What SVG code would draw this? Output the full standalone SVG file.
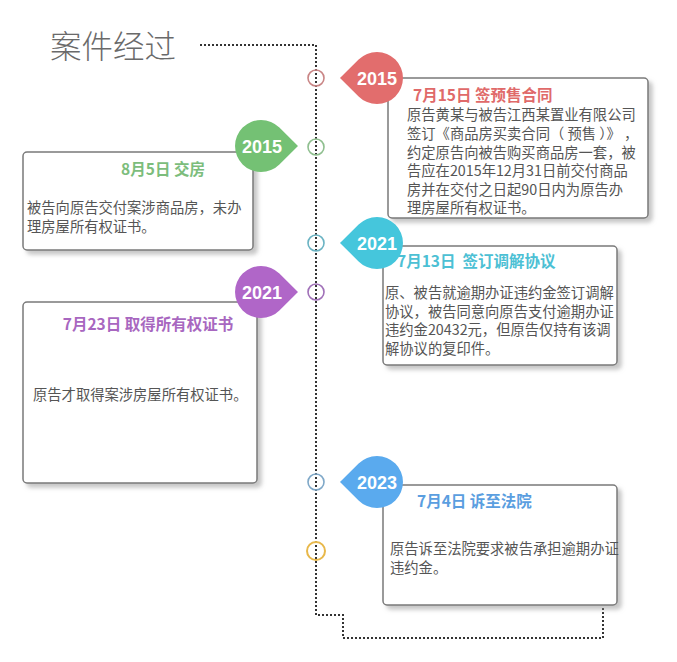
<svg xmlns="http://www.w3.org/2000/svg" width="677" height="662" viewBox="0 0 677 662">
<defs>
<filter id="sh" x="-10%" y="-10%" width="125%" height="125%">
<feDropShadow dx="4" dy="4" stdDeviation="2" flood-color="#999" flood-opacity="0.55"/>
</filter>
<style>
.box{fill:#fff;stroke:#7a7a7a;stroke-width:1.5;filter:url(#sh)}
.body{font-family:"Noto Sans CJK SC","Liberation Sans",sans-serif;font-size:14.3px;fill:#555}
.ttl{font-family:"Noto Sans CJK SC","Liberation Sans",sans-serif;font-size:15.5px;font-weight:bold}
.yr{font-family:"Liberation Sans",sans-serif;font-size:18px;font-weight:bold;fill:#fff;text-anchor:middle}
.dot{fill:none;stroke:#333;stroke-width:2;stroke-dasharray:2 2}
.ring{fill:none;stroke-width:1.6}
</style>
</defs>
<rect width="677" height="662" fill="#fff"/>
<text x="50" y="58" font-family="Noto Sans CJK SC,sans-serif" font-size="31.5" fill="#6a6a6a" font-weight="300">案件经过</text>
<g id="connectors">
<path class="dot" d="M200 45 H316 V615 H343 V638 H603 V608"/>
</g>
<g id="rings">
<circle class="ring" cx="316" cy="78" r="8" stroke="#c98585"/>
<circle class="ring" cx="316" cy="147" r="8" stroke="#8fbf8f"/>
<circle class="ring" cx="316" cy="243" r="8" stroke="#6ab3c3"/>
<circle class="ring" cx="316" cy="292" r="8" stroke="#a070b8"/>
<circle class="ring" cx="316" cy="482" r="8" stroke="#7fa8c8"/>
<circle cx="316" cy="551" r="9" fill="none" stroke="#e8b84a" stroke-width="2"/>
</g>
<g id="n1">
<rect class="box" x="388" y="78" width="260" height="140" rx="4"/>
<path d="M340 78 L358.6 59.6 A26 26 0 1 1 358.6 96.4 Z" fill="#e26d6d"/>
<text class="yr" x="377" y="84.5">2015</text>
<text class="ttl" x="413" y="101" fill="#e06a6a">7月15日 签预售合同</text>
<text class="body" x="407" y="120">原告黄某与被告江西某置业有限公司</text>
<text class="body" x="407" y="139" xml:space="preserve">签订《商品房买卖合同（ 预售 ）》 ，</text>
<text class="body" x="407" y="157.5">约定原告向被告购买商品房一套，被</text>
<text class="body" x="407" y="176">告应在2015年12月31日前交付商品</text>
<text class="body" x="407" y="194.5">房并在交付之日起90日内为原告办</text>
<text class="body" x="407" y="213">理房屋所有权证书。</text>
</g>
<g id="n2">
<rect class="box" x="23" y="152" width="230" height="98" rx="4"/>
<path d="M298 146 L279.4 127.6 A26 26 0 1 0 279.4 164.4 Z" fill="#74c174"/>
<text class="yr" x="262" y="152.5">2015</text>
<text class="ttl" x="163" y="175" fill="#7cbd7c" text-anchor="middle">8月5日 交房</text>
<text class="body" x="27" y="213">被告向原告交付案涉商品房，未办</text>
<text class="body" x="27" y="232">理房屋所有权证书。</text>
</g>
<g id="n3">
<rect class="box" x="383" y="246" width="234" height="119" rx="4"/>
<text class="ttl" x="397" y="267" fill="#4cc0d4" xml:space="preserve">7月13日  签订调解协议</text>
<path d="M340 243 L358.6 224.6 A26 26 0 1 1 358.6 261.4 Z" fill="#45c6dc"/>
<text class="yr" x="377" y="249.5">2021</text>
<text class="body" x="385" y="298">原、被告就逾期办证违约金签订调解</text>
<text class="body" x="385" y="316.5">协议，被告同意向原告支付逾期办证</text>
<text class="body" x="385" y="335">违约金20432元，但原告仅持有该调</text>
<text class="body" x="385" y="353.5">解协议的复印件。</text>
</g>
<g id="n4">
<rect class="box" x="23" y="302" width="234" height="181" rx="4"/>
<path d="M298 292 L279.4 273.6 A26 26 0 1 0 279.4 310.4 Z" fill="#b066c8"/>
<text class="yr" x="262" y="298.5">2021</text>
<text class="ttl" x="148" y="330" fill="#a867c0" text-anchor="middle">7月23日 取得所有权证书</text>
<text class="body" x="33" y="400">原告才取得案涉房屋所有权证书。</text>
</g>
<g id="n5">
<rect class="box" x="383" y="485" width="234" height="120" rx="4"/>
<path d="M340 482 L358.6 463.6 A26 26 0 1 1 358.6 500.4 Z" fill="#5aaaee"/>
<text class="yr" x="377" y="488.5">2023</text>
<text class="ttl" x="417" y="507" fill="#5a9ee0">7月4日 诉至法院</text>
<text class="body" x="390" y="554">原告诉至法院要求被告承担逾期办证</text>
<text class="body" x="390" y="573">违约金。</text>
</g>
</svg>
